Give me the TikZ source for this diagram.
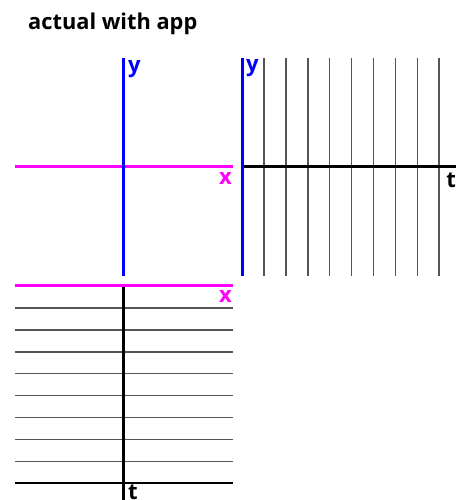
\documentclass[tikz,border=0pt]{standalone}
\usepackage{fontspec}
\setmainfont{Open Sans}
\usetikzlibrary{positioning}
\definecolor{axisBlue}{RGB}{0,0,255}
\definecolor{axisMagenta}{RGB}{255,0,255}
\definecolor{gridGray}{RGB}{85,85,85}
\tikzset{
  yaxis/.style={draw=axisBlue, line width=3pt},
  xaxis/.style={draw=axisMagenta, line width=3pt},
  taxis/.style={draw=black, line width=3pt},
  gridline/.style={draw=gridGray, line width=1.5pt},
  lbl/.style={inner sep=0pt, font=\bfseries\fontsize{22}{24}\selectfont},
  title/.style={inner sep=0pt, anchor=base west, font=\bfseries\fontsize{21.8}{26}\selectfont}
}

\begin{document}
\begin{tikzpicture}[x=1pt,y=1pt]
  \useasboundingbox (0,0) rectangle (456,500);
  \node[title] (head) at (28,470) {actual with app};

  % x-y plane
  \coordinate (ytopA) at (123,442);
  \coordinate (ybotA) at (123,224);
  \coordinate (xleftA) at (15,333);
  \coordinate (xrightA) at (233,333);
  \draw[xaxis] (xleftA) -- (xrightA);
  \draw[yaxis] (ytopA) -- (ybotA);
  \node[lbl, text=axisBlue, anchor=north west] (ylabA) at ([xshift=5pt,yshift=-2pt]ytopA) {y};
  \node[lbl, text=axisMagenta, anchor=north east] (xlabA) at ([xshift=-1pt,yshift=-5pt]xrightA) {x};

  % y-t plane
  \coordinate (ytopB) at (242,442);
  \coordinate (ybotB) at (242,224);
  \coordinate (tleftB) at (242,333);
  \coordinate (trightB) at (456,333);
  \foreach \k in {0,...,8}
    \draw[gridline] (264+21.9*\k,442) -- (264+21.9*\k,224);
  \draw[taxis] (tleftB) -- (trightB);
  \draw[yaxis] (ytopB) -- (ybotB);
  \node[lbl, text=axisBlue, anchor=north west] (ylabB) at ([xshift=4pt,yshift=-1pt]ytopB) {y};
  \node[lbl, anchor=north east] (tlabB) at ([xshift=0pt,yshift=-6pt]trightB) {t};

  % x-t plane
  \coordinate (xleftC) at (15,214);
  \coordinate (xrightC) at (233,214);
  \coordinate (ttopC) at (123,213);
  \coordinate (tbotC) at (123,0);
  \foreach \k in {0,...,7}
    \draw[gridline] (15,192-21.9*\k) -- (233,192-21.9*\k);
  \draw[gridline, draw=black] (15,17) -- (233,17);
  \draw[taxis] (ttopC) -- (tbotC);
  \draw[xaxis] (xleftC) -- (xrightC);
  \node[lbl, text=axisMagenta, anchor=north east] (xlabC) at ([xshift=-1pt,yshift=-4pt]xrightC) {x};
  \node[lbl, anchor=south west] (tlabC) at ([xshift=5pt]123,0.5) {t};
\end{tikzpicture}
\end{document}
